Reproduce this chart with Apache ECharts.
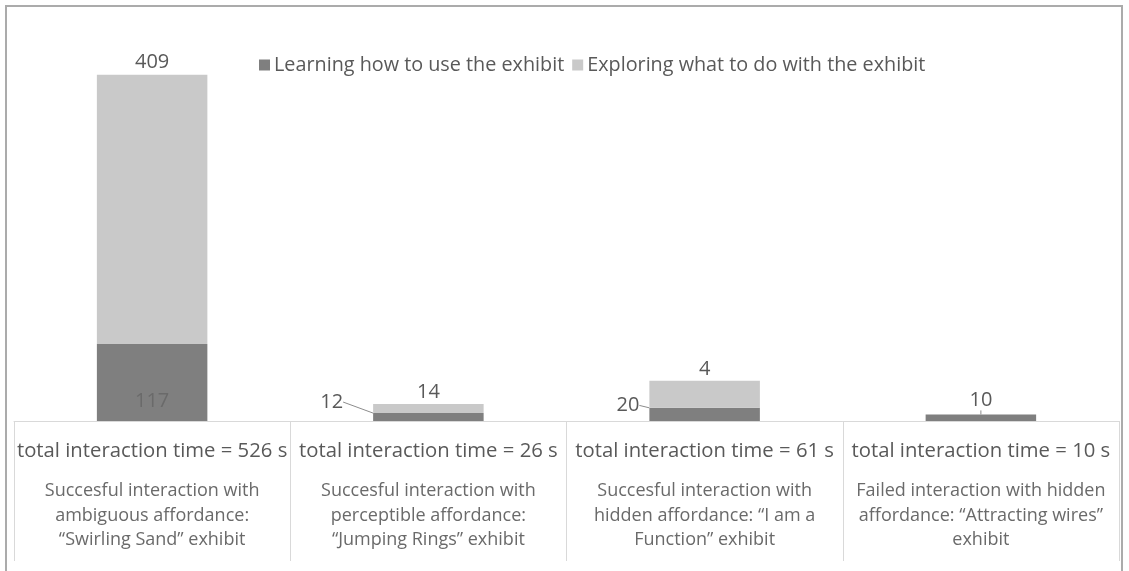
<!DOCTYPE html>
<html>
<head>
<meta charset="utf-8">
<script src="https://cdn.jsdelivr.net/npm/echarts@6/dist/echarts.min.js"></script>
<style>
html,body{margin:0;padding:0;background:#fff;overflow:hidden;}
#frame{position:absolute;left:5px;top:5px;width:1118px;height:620px;border:2px solid #ababab;box-sizing:border-box;}
#chart{position:absolute;left:0;top:0;width:1129px;height:571px;}
</style>
</head>
<body>
<div id="frame"></div>
<div id="chart"></div>
<script>
const categories = [
  "Succesful interaction with\nambiguous affordance:\n“Swirling Sand” exhibit",
  "Succesful interaction with\nperceptible affordance:\n“Jumping Rings” exhibit",
  "Succesful interaction with\nhidden affordance: “I am a\nFunction” exhibit",
  "Failed interaction with hidden\naffordance: “Attracting wires”\nexhibit"
];
const seriesNames = ["Learning how to use the exhibit", "Exploring what to do with the exhibit"];
const learning = [117, 12, 20, 10];
const exploring = [409, 14, 41, 0];
const exploringLabels = ["409", "14", "4", ""];
const totals = learning.map((v, i) => v + exploring[i]);

const FONT = "Open Sans";
const TXT = "#595959";
const VS = 20;

const chart = echarts.init(document.getElementById('chart'));

const learningLabel = [
  { show: true, position: 'insideBottom', distance: 10, color: '#6a6a6a' },
  { show: true, position: 'left', distance: 30 },
  { show: true, position: 'left', distance: 10 },
  { show: true, position: 'top', distance: 4 }
];
const learningLayout = [null, { dx: 0, dy: -15 }, { dx: 0, dy: -9 }, null];

chart.setOption({
  animation: false,
  textStyle: { fontFamily: FONT },
  legend: {
    top: 50, left: 254,
    itemWidth: 11, itemHeight: 11, itemGap: 8,
    icon: 'rect',
    textStyle: { fontFamily: FONT, fontSize: 19.8, color: TXT, padding: [0, 0, 0, -1] },
    data: seriesNames
  },
  grid: { left: 14, right: 10, top: 26, bottom: 150, containLabel: false },
  xAxis: {
    type: 'category',
    data: categories,
    axisLine: { show: true, lineStyle: { color: '#d9d9d9', width: 1 } },
    axisTick: { show: true, length: 140, lineStyle: { color: '#d9d9d9', width: 1 } },
    axisLabel: {
      interval: 0, margin: 3,
      formatter: function (val, idx) {
        const lines = val.split('\n').map(l => '{b|' + l + '}').join('\n');
        return '{a|total interaction time = ' + totals[idx] + ' s}\n' + lines;
      },
      rich: {
        a: { fontFamily: FONT, fontSize: 20.3, color: TXT, lineHeight: 55 },
        b: { fontFamily: FONT, fontSize: 18, color: '#6a6a6a', lineHeight: 24.5 }
      }
    }
  },
  yAxis: { type: 'value', min: 0, max: 600, show: false, splitLine: { show: false } },
  series: [
    {
      name: seriesNames[0], type: 'bar', stack: 'total', barWidth: '40%',
      itemStyle: { color: '#7f7f7f' },
      label: { fontFamily: FONT, fontSize: VS, color: TXT },
      labelLine: { show: true, lineStyle: { color: '#8c8c8c', width: 1 } },
      labelLayout: function (p) { return learningLayout[p.dataIndex] || {}; },
      data: learning.map((v, i) => ({ value: v, label: learningLabel[i] }))
    },
    {
      name: seriesNames[1], type: 'bar', stack: 'total', barWidth: '40%',
      itemStyle: { color: '#c9c9c9' },
      label: {
        show: true, position: 'top', distance: 2,
        fontFamily: FONT, fontSize: VS, color: TXT,
        formatter: p => exploringLabels[p.dataIndex]
      },
      data: exploring
    }
  ]
});
</script>
</body>
</html>
